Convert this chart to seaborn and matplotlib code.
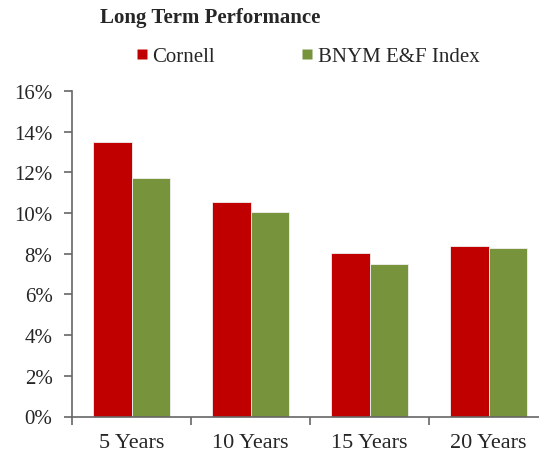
"""Long Term Performance: Cornell vs BNYM E&F Index"""
import matplotlib

matplotlib.use("Agg")
from matplotlib import pyplot as plt
from matplotlib.lines import Line2D
from matplotlib.ticker import FuncFormatter, MultipleLocator
from pandas import DataFrame
import seaborn as sns

periods = ["5 Years", "10 Years", "15 Years", "20 Years"]
cornell = [13.5, 10.55, 8.05, 8.4]
bnym = [11.7, 10.05, 7.5, 8.3]
series_names = ["Cornell", "BNYM E&F Index"]
colors = ["#C00000", "#77933C"]

df = DataFrame(
    {
        "Period": periods * 2,
        "Return": cornell + bnym,
        "Series": [series_names[0]] * 4 + [series_names[1]] * 4,
    }
)

sns.set_style("white")
plt.rcParams["font.family"] = ["Liberation Serif", "DejaVu Serif"]

fig = plt.figure(figsize=(5.39, 4.56), dpi=100)
ax = fig.add_axes([72 / 539, 1 - 417.5 / 456, 476 / 539, (417.5 - 92) / 456])

sns.barplot(
    data=df,
    x="Period",
    y="Return",
    hue="Series",
    palette=colors,
    saturation=1,
    width=0.64,
    edgecolor="#f0f0f0",
    linewidth=0.6,
    legend=False,
    ax=ax,
)

ax.set_ylim(0, 16)
ax.set_xlim(-0.5, 3.5)
ax.yaxis.set_major_locator(MultipleLocator(2))
ax.yaxis.set_major_formatter(FuncFormatter(lambda v, _: f"{v:.0f}%"))
ax.set_xticks([-0.5, 0.5, 1.5, 2.5], labels=[])
ax.set_xticks([0, 1, 2, 3], labels=periods, minor=True)
ax.tick_params(axis="x", which="major", bottom=True, length=6, width=1.2,
               color="#666666", direction="out")
ax.tick_params(axis="x", which="minor", bottom=False, length=0, labelsize=16, pad=12)
ax.tick_params(axis="y", left=True, length=6, width=1.2, color="#666666",
               direction="out", labelsize=15, pad=8)
ax.set_xlabel("")
ax.set_ylabel("")
for side in ["top", "right"]:
    ax.spines[side].set_visible(False)
for side in ["left", "bottom"]:
    ax.spines[side].set_color("#666666")
    ax.spines[side].set_linewidth(1.2)

# square legend markers, like the spreadsheet original
handles = [
    Line2D([], [], marker="s", linestyle="none", markersize=7.2,
           markerfacecolor=c, markeredgecolor="none")
    for c in colors
]
ax.legend(
    handles,
    series_names,
    loc="center left",
    bbox_to_anchor=(137 / 539, 1 - 57 / 456),
    bbox_transform=fig.transFigure,
    ncol=2,
    frameon=False,
    fontsize=15,
    borderpad=0,
    borderaxespad=0,
    handlelength=0.48,
    handletextpad=0.25,
    columnspacing=4.2,
)

fig.text(100 / 539, 1 - 18 / 456, "Long Term Performance", fontsize=15,
         fontweight="bold", ha="left", va="center")

fig.savefig("out.png", dpi=100)
